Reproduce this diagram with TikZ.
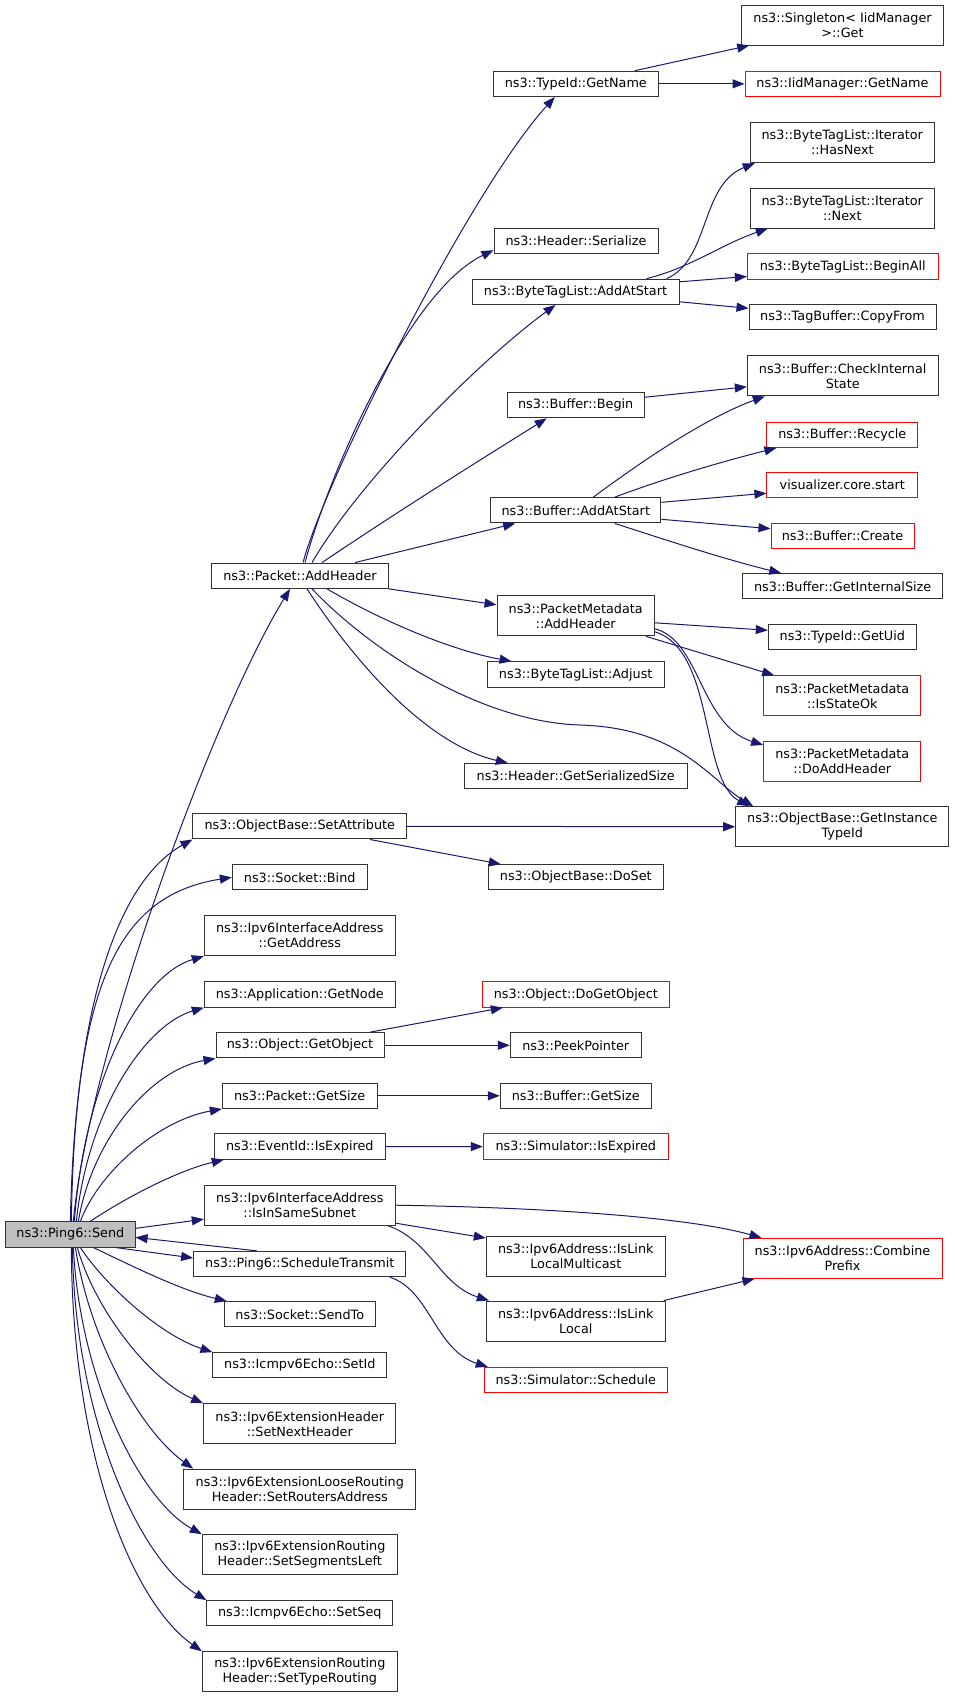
\documentclass[tikz,border=0pt]{standalone}
\usepackage{fontspec}
\setmainfont{DejaVu Sans}
\usetikzlibrary{arrows.meta}
\definecolor{edgeblue}{HTML}{191970}
\definecolor{nodegray}{HTML}{BFBFBF}
\definecolor{boxline}{HTML}{333333}
\begin{document}
\begin{tikzpicture}[x=1pt,y=-1pt,
  font=\fontsize{12.8}{15}\selectfont,
  nb/.style={draw=boxline, line width=1pt, inner sep=0pt, align=center, fill=white, minimum height=25.3pt},
  rb/.style={nb, draw=red},
  two/.style={minimum height=40pt},
  ed/.style={draw=edgeblue, line width=1pt, -{Triangle[length=12pt,width=9pt]}}]
\fill[white] (0,0) rectangle (955,1697);
\useasboundingbox (0,0) rectangle (955,1697);

% nodes
\node[nb, fill=nodegray, minimum width=129.3pt] (S) at (70.35,1234.35) {ns3::Ping6::Send};
\node[nb, minimum width=176.6pt] (PA) at (300,575.7) {ns3::Packet::AddHeader};
\node[nb, minimum width=165pt] (TN) at (575.8,83.85) {ns3::TypeId::GetName};
\node[nb, two, minimum width=201.6pt] (SG) at (842.5,25) {ns3::Singleton< IidManager\\ >::Get};
\node[rb, minimum width=195pt] (IG) at (842.5,83.85) {ns3::IidManager::GetName};
\node[nb, two, minimum width=184pt] (HN) at (842.3,142.7) {ns3::ByteTagList::Iterator\\ ::HasNext};
\node[nb, two, minimum width=184pt] (IN) at (842.3,208) {ns3::ByteTagList::Iterator\\ ::Next};
\node[nb, minimum width=164pt] (HS) at (576,241.2) {ns3::Header::Serialize};
\node[nb, minimum width=207pt] (BA) at (575.5,291.8) {ns3::ByteTagList::AddAtStart};
\node[rb, minimum width=190.7pt] (BB) at (842.7,266.5) {ns3::ByteTagList::BeginAll};
\node[nb, minimum width=187pt] (CF) at (842.5,317.3) {ns3::TagBuffer::CopyFrom};
\node[nb, two, minimum width=190.7pt] (CI) at (842.7,375.8) {ns3::Buffer::CheckInternal\\ State};
\node[nb, minimum width=137.3pt] (BG) at (575.7,405.2) {ns3::Buffer::Begin};
\node[rb, minimum width=150.7pt] (RC) at (842.3,434.8) {ns3::Buffer::Recycle};
\node[rb, minimum width=150.7pt] (VS) at (842.3,485.2) {visualizer.core.start};
\node[nb, minimum width=170.3pt] (BU) at (575.8,510.3) {ns3::Buffer::AddAtStart};
\node[rb, minimum width=143pt] (BC) at (842.5,535.7) {ns3::Buffer::Create};
\node[nb, minimum width=200pt] (GI) at (842.7,586.3) {ns3::Buffer::GetInternalSize};
\node[nb, two, minimum width=157.3pt] (PM) at (575.7,615.8) {ns3::PacketMetadata\\ ::AddHeader};
\node[nb, minimum width=148pt] (GU) at (842.3,637.3) {ns3::TypeId::GetUid};
\node[nb, minimum width=177.3pt] (AJ) at (575.7,674.5) {ns3::ByteTagList::Adjust};
\node[rb, two, minimum width=157.3pt] (SO) at (842.3,695.8) {ns3::PacketMetadata\\ ::IsStateOk};
\node[rb, two, minimum width=157.3pt] (DA) at (842.3,761) {ns3::PacketMetadata\\ ::DoAddHeader};
\node[nb, minimum width=222.7pt] (GS) at (575.7,776.2) {ns3::Header::GetSerializedSize};
\node[nb, two, minimum width=213.3pt] (GT) at (842.3,826.7) {ns3::ObjectBase::GetInstance\\ TypeId};
\node[nb, minimum width=213.7pt] (SA) at (299.8,826.3) {ns3::ObjectBase::SetAttribute};
\node[nb, minimum width=175pt] (DS) at (575.8,877.3) {ns3::ObjectBase::DoSet};
\node[nb, minimum width=134.7pt] (SB) at (299.7,877.3) {ns3::Socket::Bind};
\node[nb, two, minimum width=191pt] (GA) at (299.8,935.7) {ns3::Ipv6InterfaceAddress\\ ::GetAddress};
\node[nb, minimum width=191pt] (GN) at (299.8,994.5) {ns3::Application::GetNode};
\node[nb, minimum width=168pt] (GO) at (300,1045.3) {ns3::Object::GetObject};
\node[rb, minimum width=187pt] (DG) at (575.8,994.5) {ns3::Object::DoGetObject};
\node[nb, minimum width=131pt] (PP) at (575.8,1045.3) {ns3::PeekPointer};
\node[nb, minimum width=154.7pt] (PS) at (299.7,1095.8) {ns3::Packet::GetSize};
\node[nb, minimum width=151pt] (BS) at (575.8,1095.8) {ns3::Buffer::GetSize};
\node[nb, minimum width=171pt] (EI) at (299.8,1146.5) {ns3::EventId::IsExpired};
\node[rb, minimum width=185pt] (SI) at (575.8,1146.6) {ns3::Simulator::IsExpired};
\node[nb, two, minimum width=191pt] (IS) at (299.8,1205.2) {ns3::Ipv6InterfaceAddress\\ ::IsInSameSubnet};
\node[nb, minimum width=212.3pt] (ST) at (299.8,1264) {ns3::Ping6::ScheduleTransmit};
\node[nb, two, minimum width=179pt] (LM) at (575.8,1256) {ns3::Ipv6Address::IsLink\\ LocalMulticast};
\node[rb, two, minimum width=199pt] (CP) at (842.5,1258.3) {ns3::Ipv6Address::Combine\\ Prefix};
\node[nb, two, minimum width=179pt] (LL) at (575.8,1321) {ns3::Ipv6Address::IsLink\\ Local};
\node[rb, minimum width=183pt] (SS) at (575.8,1380) {ns3::Simulator::Schedule};
\node[nb, minimum width=151pt] (SD) at (299.8,1314.3) {ns3::Socket::SendTo};
\node[nb, minimum width=173.7pt] (SID) at (299.8,1365.3) {ns3::Icmpv6Echo::SetId};
\node[nb, two, minimum width=192.3pt] (NH) at (299.8,1423.8) {ns3::Ipv6ExtensionHeader\\ ::SetNextHeader};
\node[nb, two, minimum width=232.3pt] (RA) at (299.8,1489.2) {ns3::Ipv6ExtensionLooseRouting\\ Header::SetRoutersAddress};
\node[nb, two, minimum width=195pt] (SL) at (299.8,1554.7) {ns3::Ipv6ExtensionRouting\\ Header::SetSegmentsLeft};
\node[nb, minimum width=185.7pt] (SQ) at (299.8,1613.3) {ns3::Icmpv6Echo::SetSeq};
\node[nb, two, minimum width=195pt] (TR) at (299.8,1671.8) {ns3::Ipv6ExtensionRouting\\ Header::SetTypeRouting};

% edges from Send (upwards)
\draw[ed] ([xshift=3pt]S.north) .. controls (88,1060) and (210,720) .. ([xshift=-10pt]PA.south);
\draw[ed] ([xshift=0pt]S.north) .. controls (75,1000) and (120,880) .. (SA.south west);
\draw[ed] ([xshift=1pt]S.north) .. controls (75,980) and (120,895) .. (SB.west);
\draw[ed] ([xshift=4pt]S.north) .. controls (85,1080) and (140,975) .. (GA.south west);
\draw[ed] ([xshift=6pt]S.north) .. controls (88,1110) and (145,1025) .. (GN.south west);
\draw[ed] ([xshift=8pt]S.north) .. controls (92,1140) and (150,1070) .. (GO.south west);
\draw[ed] ([xshift=10pt]S.north) .. controls (100,1170) and (160,1120) .. (PS.south west);
\draw[ed] ([xshift=20pt]S.north) .. controls (130,1195) and (180,1170) .. ([xshift=10pt]EI.south west);
\draw[ed] ([yshift=6pt]S.east) -- ([yshift=-14pt]IS.west);
\draw[ed] ([xshift=-43pt]ST.north) -- ([yshift=-3pt]S.east);
\draw[ed] ([xshift=45pt]S.south) -- ([yshift=6pt]ST.west);

% edges from Send (downwards)
\draw[ed] ([xshift=23pt]S.south) .. controls (130,1265) and (180,1290) .. ([xshift=3pt]SD.north west);
\draw[ed] ([xshift=10pt]S.south) .. controls (105,1285) and (160,1335) .. (SID.north west);
\draw[ed] ([xshift=7pt]S.south) .. controls (95,1310) and (150,1380) .. (NH.north west);
\draw[ed] ([xshift=5pt]S.south) .. controls (90,1340) and (140,1430) .. ([xshift=10pt]RA.north west);
\draw[ed] ([xshift=3pt]S.south) .. controls (80,1380) and (140,1500) .. (SL.north west);
\draw[ed] ([xshift=2pt]S.south) .. controls (75,1420) and (140,1560) .. (SQ.north west);
\draw[ed] ([xshift=1pt]S.south) .. controls (72,1450) and (130,1600) .. (TR.north west);

% edges from Packet::AddHeader
\draw[ed] ([xshift=3pt]PA.north) .. controls (325,480) and (470,190) .. ([xshift=-21pt]TN.south);
\draw[ed] ([xshift=5pt]PA.north) .. controls (330,470) and (410,290) .. ([yshift=-9pt]HS.west);
\draw[ed] ([xshift=12pt]PA.north) .. controls (360,480) and (480,360) .. ([xshift=-20pt]BA.south);
\draw[ed] ([xshift=22pt]PA.north) .. controls (400,510) and (480,460) .. ([xshift=-29pt]BG.south);
\draw[ed] ([xshift=55pt]PA.north) -- ([xshift=25pt]BU.south west);
\draw[ed] (PA.south east) -- ([yshift=11pt]PM.west);
\draw[ed] ([xshift=27pt]PA.south) .. controls (380,620) and (450,650) .. ([xshift=25pt]AJ.north west);
\draw[ed] ([xshift=12pt]PA.south) .. controls (370,650) and (480,722) .. (580,725) .. controls (680,728) and (710,780) .. ([xshift=18pt]GT.north west);
\draw[ed] ([xshift=7pt]PA.south) .. controls (360,670) and (430,745) .. ([xshift=44pt]GS.north west);

% edges from PacketMetadata::AddHeader
\draw[ed] ([yshift=-7pt]PM.east) -- ([yshift=7pt]GU.west);
\draw[ed] ([xshift=-9pt]PM.south east) -- ([xshift=11pt]SO.north west);
\draw[ed] ([yshift=-13pt]PM.east) .. controls (700,640) and (700,725) .. ([yshift=16pt]DA.west);
\draw[ed] ([yshift=-16pt]PM.east) .. controls (715,650) and (700,780) .. ([xshift=14pt]GT.north west);

% edges from Buffer::AddAtStart
\draw[ed] ([xshift=17.5pt]BU.north) .. controls (630,470) and (700,420) .. ([xshift=18pt]CI.south west);
\draw[ed] ([xshift=39pt]BU.north) .. controls (660,480) and (720,462) .. ([xshift=10pt]RC.south west);
\draw[ed] ([yshift=8pt]BU.east) -- ([yshift=-8pt]VS.west);
\draw[ed] ([yshift=-9pt]BU.east) -- ([yshift=7pt]BC.west);
\draw[ed] ([xshift=39pt]BU.south) .. controls (660,538) and (720,558) .. ([xshift=39pt]GI.north west);

% Buffer::Begin
\draw[ed] ([yshift=8pt]BG.east) -- ([yshift=-11pt]CI.west);

% ByteTagList::AddAtStart
\draw[ed] ([xshift=91pt]BA.north) .. controls (710,260) and (700,185) .. ([xshift=5pt]HN.south west);
\draw[ed] ([xshift=71pt]BA.north) .. controls (690,268) and (720,245) .. ([xshift=18pt]IN.south west);
\draw[ed] ([yshift=10pt]BA.east) -- ([yshift=-10pt]BB.west);
\draw[ed] ([yshift=-10pt]BA.east) -- ([yshift=9pt]CF.west);

% TypeId::GetName
\draw[ed] ([xshift=59pt]TN.north) -- ([xshift=8pt]SG.south west);
\draw[ed] (TN.east) -- (IG.west);

% SetAttribute
\draw[ed] (SA.east) -- (GT.west);
\draw[ed] ([xshift=70pt]SA.south) -- ([xshift=13pt]DS.north west);

% GetObject, GetSize, IsExpired
\draw[ed] ([xshift=70pt]GO.north) -- ([xshift=21pt]DG.south west);
\draw[ed] (GO.east) -- (PP.west);
\draw[ed] (PS.east) -- (BS.west);
\draw[ed] (EI.east) -- (SI.west);

% IsInSameSubnet
\draw[ed] (IS.east) .. controls (520,1207) and (680,1215) .. ([xshift=19pt]CP.north west);
\draw[ed] ([yshift=-18pt]IS.east) -- ([yshift=18pt]LM.west);
\draw[ed] ([xshift=88pt]IS.south) .. controls (430,1240) and (440,1285) .. ([xshift=3pt]LL.north west);
\draw[ed] ([xshift=-2pt]LL.north east) -- ([xshift=12pt]CP.south west);

% ScheduleTransmit
\draw[ed] ([xshift=90pt]ST.south) .. controls (430,1290) and (435,1350) .. ([xshift=4pt]SS.north west);
\end{tikzpicture}
\end{document}
